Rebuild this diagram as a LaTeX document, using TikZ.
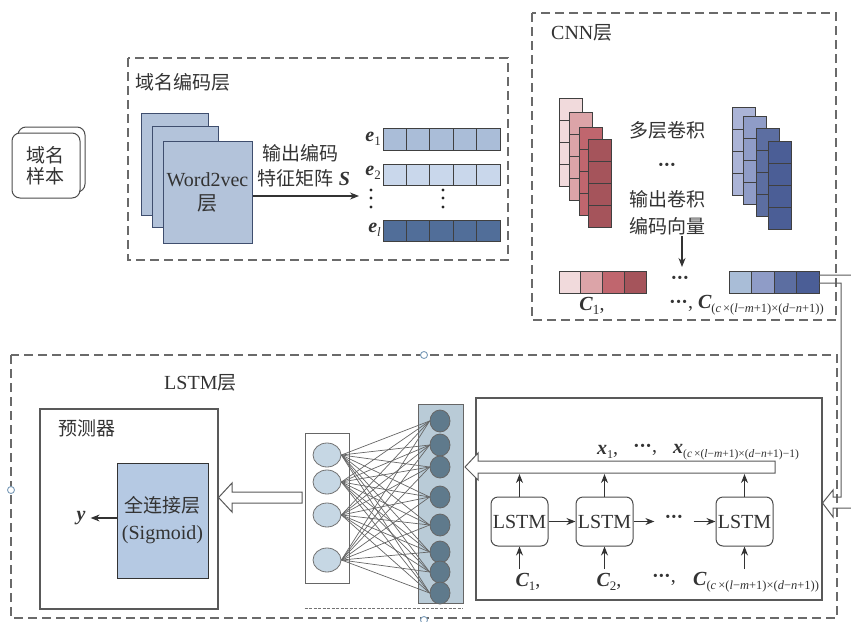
\documentclass[tikz,border=0pt]{standalone}
\usepackage{fontspec}
\setmainfont{Liberation Serif}
\newfontfamily\cjk{Noto Sans CJK SC}
\usetikzlibrary{arrows.meta,shapes.geometric}

\definecolor{dashgray}{HTML}{6A6A6A}
\definecolor{txtgray}{HTML}{333333}
\definecolor{wfill}{HTML}{B3C3DA}
\definecolor{wline}{HTML}{3F4E6E}
\definecolor{eA}{HTML}{AABDD8}
\definecolor{eB}{HTML}{C9D7EB}
\definecolor{eL}{HTML}{516E99}
\definecolor{rA}{HTML}{F1DADC}
\definecolor{rB}{HTML}{DCA4A8}
\definecolor{rC}{HTML}{C0666E}
\definecolor{rD}{HTML}{A5545B}
\definecolor{bA}{HTML}{ABB4D7}
\definecolor{bB}{HTML}{8F9CC7}
\definecolor{bC}{HTML}{5C6EA1}
\definecolor{bD}{HTML}{4B5E96}
\definecolor{vA}{HTML}{A9BDD7}
\definecolor{fcfill}{HTML}{B5C9E3}
\definecolor{innode}{HTML}{C6D7E4}
\definecolor{outcol}{HTML}{B9CBD7}
\definecolor{outnode}{HTML}{5F7A8C}
\definecolor{handle}{HTML}{7C9CB9}

% bold italic symbol and lowered small index
\newcommand\bfit[1]{{\bfseries\itshape #1}}
\newcommand\sbs[2]{\raisebox{-4pt}{\fontsize{#1}{#1}\selectfont #2}}
\newcommand\cidx{(\textit{c}\,×(\textit{l}−\textit{m}+1)×(\textit{d}−\textit{n}+1))}
\newcommand\xidx{(\textit{c}\,×(\textit{l}−\textit{m}+1)×(\textit{d}−\textit{n}+1)−1)}
% tight centred ellipsis
\newcommand\cdts{\textbf{·\kern-0.6pt·\kern-0.6pt·}}

% one convolution column of four cells: x, y, colour
\newcommand\cnncol[3]{%
  \foreach \k in {0,1,2,3}
    \draw[cellline, fill=#3] ({#1},{#2+22*\k}) rectangle ++(23,22);}
% a row of cells: x, y, cell width, height, colours
\newcommand\cellrow[5]{%
  \foreach \c [count=\k from 0] in {#5}
    \draw[cellline, fill=\c] ({#1+#3*\k},{#2}) rectangle ++(#3,#4);}

\begin{document}
\begin{tikzpicture}[x=1pt,y=-1pt,
  every node/.style={font=\fontsize{20}{24}\selectfont, text=txtgray, inner sep=1pt},
  cjkt/.style={font=\cjk\fontsize{19}{24}\selectfont},
  dashbox/.style={draw=dashgray, line width=1.1pt, dash pattern=on 9pt off 5pt},
  cellline/.style={draw=black!75, line width=0.9pt},
  arr/.style={draw=black!80, line width=1.1pt, -{Stealth[length=9pt,width=7pt]}},
  hollow/.style={draw=black!65, line width=1pt, line join=miter},
  plainbox/.style={draw=black!65, line width=1.1pt},
  inn/.style={ellipse, draw=black!55, line width=0.8pt, fill=innode, minimum width=28pt, minimum height=24pt},
  outn/.style={ellipse, draw=black!60, line width=0.8pt, fill=outnode, minimum width=20pt, minimum height=22pt},
  netedge/.style={draw=black!60, line width=0.7pt},
  lstmcell/.style={draw=black!70, line width=1pt, rounded corners=7pt, fill=white, minimum width=57pt, minimum height=49pt},
]
\useasboundingbox (0,0) rectangle (851,621);

% ---------- domain sample ----------
\node[draw=black!70, line width=1pt, rounded corners=8pt, fill=white, minimum width=67pt, minimum height=65pt] (sampleback) at (51.5,159.5) {};
\node[draw=black!70, line width=1pt, rounded corners=8pt, fill=white, minimum width=68pt, minimum height=65pt,
      align=center, font=\cjk\fontsize{19}{21}\selectfont] (sample) at (46,165.5) {域名\\样本};

% ---------- domain encoding layer ----------
\draw[dashbox] (128,58) rectangle (508,260);
\node[cjkt, anchor=west] (enclabel) at (134,82) {域名编码层};

\draw[draw=wline, fill=wfill, line width=1pt] (141,113) rectangle (208,215);
\draw[draw=wline, fill=wfill, line width=1pt] (152,126) rectangle (218,227);
\node[draw=wline, fill=wfill, line width=1pt, minimum width=89pt, minimum height=102pt, align=center,
      font=\fontsize{20}{24}\selectfont] (w2v) at (207.5,192) {Word2vec\\{\cjk 层}};

\coordinate (etip) at (359,196);
\draw[arr] (w2v.east |- etip) -- (etip);
\node[cjkt] (lab1) at (300,153) {输出编码};
\node (lab2) at (304,178) {{\cjk\fontsize{19}{24}\selectfont 特征矩阵} \bfit{S}};

\cellrow{383}{128}{23.4}{22}{eA,eA,eA,eA,eA}
\cellrow{383}{164}{23.4}{21}{eB,eB,eB,eB,eB}
\cellrow{383}{220}{23.4}{21}{eL,eL,eL,eL,eL}
\node[anchor=east] (e1) at (382,139) {\bfit{e}\sbs{13}{1}};
\node[anchor=east] (e2) at (382,173) {\bfit{e}\sbs{13}{2}};
\node[anchor=east] (el) at (382,230) {\bfit{e}\sbs{13}{\textit{l}}};
\foreach \yy in {190,198,207} {
  \fill[black!85] (371,\yy) circle (1.7pt);
  \fill[black!85] (443,\yy) circle (1.7pt);
}

% ---------- CNN layer ----------
\draw[dashbox] (532,13) rectangle (836,320);
\node[anchor=west] (cnnlabel) at (550,33) {CNN{\cjk\fontsize{19}{24}\selectfont 层}};

\cnncol{559}{98}{rA}
\cnncol{569}{112}{rB}
\cnncol{579}{127}{rC}
\cnncol{588}{139}{rD}
\cnncol{732}{107}{bA}
\cnncol{743}{116}{bB}
\cnncol{756}{128}{bC}
\cnncol{768}{141}{bD}

\node[cjkt] (multi) at (667,130) {多层卷积};
\node (vd1) at (667,167) {\cdts};
\node[cjkt, align=center, font=\cjk\fontsize{19}{27}\selectfont] (outconv) at (667,213) {输出卷积\\编码向量};
\coordinate (convtip) at (682,267);
\draw[arr] (outconv.south -| convtip) -- (convtip);

\cellrow{559}{271}{21.75}{22}{rA,rB,rC,rD}
\node[minimum width=90pt, minimum height=22pt, inner sep=0pt] (cvec) at (774,282) {};
\cellrow{729}{271}{22.5}{22}{vA,bB,bC,bD}
\node (vd2) at (680,280) {\cdts};
\node (clab1) at (592,306) {\bfit{C}\sbs{14}{1},};
\node[anchor=west] (clabn) at (668,305) {\cdts, \bfit{C}\sbs{12.5}{\cidx}};

% ---------- LSTM layer ----------
\draw[dashbox] (11,355) rectangle (837,618);
\foreach \p in {(424,355),(11,490),(424,620)}
  \draw[draw=handle, fill=white, line width=0.9pt] \p circle (3.5pt);
\node[anchor=west] (lstmlabel) at (163,383) {LSTM{\cjk\fontsize{19}{24}\selectfont 层}};

% predictor
\node[plainbox, minimum width=178pt, minimum height=200pt] (pred) at (129,509) {};
\node[cjkt, anchor=west] (predlabel) at (57,428) {预测器};
\node[draw=black!80, fill=fcfill, line width=1pt, minimum width=91pt, minimum height=115pt, align=center,
      font=\fontsize{20}{27}\selectfont] (fc) at (162.5,520.5) {{\cjk\fontsize{19}{27}\selectfont 全连接层}\\(Sigmoid)};
\node[inner sep=5pt] (yout) at (81,518) {\bfit{y}};
\draw[arr] (fc.west |- yout) -- (yout.east);

% fully connected network
\node[draw=black!60, fill=white, line width=0.9pt, minimum width=44pt, minimum height=150pt] (netin) at (327,508) {};
\node[draw=black!60, fill=outcol, line width=0.9pt, minimum width=45pt, minimum height=199pt] (netout) at (440.5,503.5) {};
\foreach \yy [count=\i] in {455,482,515,560} \node[inn] (n\i) at (327,\yy) {};
\foreach \yy [count=\j] in {421,445,467,497,525,552,572,593} \node[outn] (m\j) at (440,\yy) {};
\foreach \i in {1,...,4}
  \foreach \j in {1,...,8}
    \draw[netedge] (n\i.east) -- (m\j.west);
\draw[draw=black!55, line width=1pt, dash pattern=on 3pt off 1.5pt] (netin.west |- 0,608) -- (netout.east |- 0,608);

% hollow arrow: network -> predictor
\draw[hollow, fill=white] (302,492) -- (232,492) -- (232,483) -- (pred.east |- 0,497.5) -- (232,512) -- (232,503) -- (302,503) -- cycle;

% LSTM sequence
\node[plainbox, minimum width=346pt, minimum height=202pt] (seq) at (649,499) {};
\node[anchor=west] (x1) at (596,452) {\bfit{x}\sbs{12}{1},};
\node[anchor=west] (xd) at (632,450) {\cdts,};
\node[anchor=west] (xn) at (672,452) {\bfit{x}\sbs{11.5}{\xidx}};
\draw[hollow, fill=white] (775,461) -- (478,461) -- (478,453) -- (465,467) -- (478,480) -- (478,473) -- (775,473) -- cycle;

\node[lstmcell] (L1) at (519.5,521.5) {LSTM};
\node[lstmcell] (L2) at (604.5,521.5) {LSTM};
\node[lstmcell] (L3) at (744.5,521.5) {LSTM};
\node[inner xsep=10pt] (hd3) at (674,519) {\cdts};
\draw[arr] (L1) -- (L2);
\draw[arr] (L2.east) -- (hd3.west |- L2.east);
\draw[arr] (hd3.east |- L3.west) -- (L3.west);

\coordinate (bodyb) at (600,474);
\coordinate (cbase) at (600,569);
\foreach \L in {L1,L2,L3} {
  \draw[arr] (\L.north) -- (\L.north |- bodyb);
  \draw[arr] (\L.south |- cbase) -- (\L.south);
}
\node (cc1) at (528,582) {\bfit{C}\sbs{13}{1},};
\node (cc2) at (609,582) {\bfit{C}\sbs{13}{2},};
\node (ccd) at (664,580) {\cdts,};
\node[anchor=west] (ccn) at (692,582) {\bfit{C}\sbs{12.5}{\cidx}};

% hollow connector: last CNN vector -> LSTM sequence
\draw[hollow] ([yshift=7pt]cvec.east) -- (858,275) -- (858,508) -- (833,508) -- (833,517) -- (seq.east |- 0,503)
  -- (833,490) -- (833,497) -- (841,497) -- (841,283) -- ([yshift=-1pt]cvec.east);
\end{tikzpicture}
\end{document}
